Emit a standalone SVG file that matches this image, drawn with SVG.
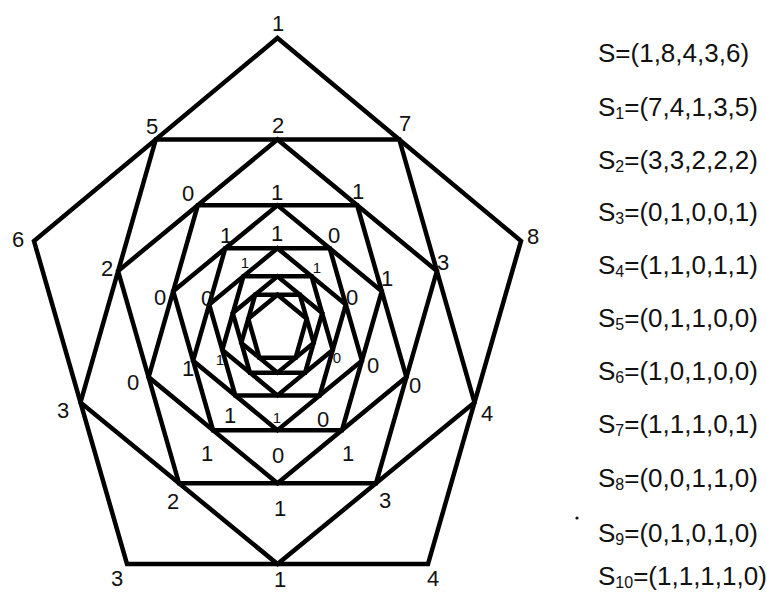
<svg xmlns="http://www.w3.org/2000/svg" width="767" height="592" viewBox="0 0 767 592">
<style>
.p{fill:none;stroke:#000;stroke-width:4.5;stroke-linejoin:miter}
.l{font-family:"Liberation Sans",Arial,sans-serif;font-size:22px;fill:#111;text-anchor:middle}
.s{font-family:"Liberation Sans",Arial,sans-serif;font-size:15px;fill:#111;text-anchor:middle}
.t{font-family:"Liberation Sans",Arial,sans-serif;font-size:26px;fill:#111}
.sub{font-size:16px}
</style>
<rect width="767" height="592" fill="#fff"/>
<g id="connectors">
<polygon id="p0" class="p" points="277.5,38 521,241 428,564 127,564 34,241"/>
<polygon id="p1" class="p" points="399.3,139.5 474.5,402.5 277.5,564 80.5,402.5 155.8,139.5"/>
<polygon id="p2" class="p" points="436.9,271 376,483.3 179,483.3 118.1,271 277.5,139.5"/>
<polygon id="p3" class="p" points="406.4,377.1 277.5,483.3 148.6,377.1 197.8,205.3 357.2,205.3"/>
<polygon id="p4" class="p" points="342,430.2 213,430.2 173.2,291.2 277.5,205.3 381.8,291.2"/>
<polygon id="p5" class="p" points="277.5,430.2 193.1,360.7 225.3,248.2 329.7,248.2 361.9,360.7"/>
<polygon id="p6" class="p" points="235.3,395.4 209.2,304.5 277.5,248.2 345.8,304.5 319.7,395.4"/>
<polygon id="p7" class="p" points="222.3,349.9 243.4,276.3 311.6,276.3 332.7,349.9 277.5,395.4"/>
<polygon id="p8" class="p" points="232.8,313.1 277.5,276.3 322.2,313.1 305.1,372.7 249.9,372.7"/>
<polygon id="p9" class="p" points="255.2,294.7 299.8,294.7 313.7,342.9 277.5,372.7 241.3,342.9"/>
<polygon id="p10" class="p" points="277.5,294.7 306.7,318.8 295.6,357.8 259.4,357.8 248.3,318.8"/>
</g>
<g id="S0labels">
<text class="l" x="278" y="31">1</text>
<text class="l" x="533" y="244">8</text>
<text class="l" x="433" y="586">4</text>
<text class="l" x="117" y="586">3</text>
<text class="l" x="18" y="247">6</text>
</g>
<g id="S1labels">
<text class="l" x="405" y="131">7</text>
<text class="l" x="487" y="421">4</text>
<text class="l" x="280" y="587">1</text>
<text class="l" x="63" y="418">3</text>
<text class="l" x="152" y="134">5</text>
</g>
<g id="S2labels">
<text class="l" x="443" y="270">3</text>
<text class="l" x="385" y="508">3</text>
<text class="l" x="173" y="509">2</text>
<text class="l" x="107" y="276">2</text>
<text class="l" x="278" y="133">2</text>
</g>
<g id="S3labels">
<text class="l" x="415" y="393">0</text>
<text class="l" x="280" y="516">1</text>
<text class="l" x="133" y="390">0</text>
<text class="l" x="188" y="201">0</text>
<text class="l" x="358" y="199">1</text>
</g>
<g id="S4labels">
<text class="l" x="348" y="461">1</text>
<text class="l" x="207" y="461">1</text>
<text class="l" x="160" y="305">0</text>
<text class="l" x="277" y="200">1</text>
<text class="l" x="387" y="286">1</text>
</g>
<g id="S5labels">
<text class="l" x="278" y="463">0</text>
<text class="l" x="188" y="376">1</text>
<text class="l" x="226" y="243">1</text>
<text class="l" x="334" y="243">0</text>
<text class="l" x="373" y="373">0</text>
</g>
<g id="S6labels">
<text class="l" x="230" y="423">1</text>
<text class="l" x="207" y="306">0</text>
<text class="l" x="277" y="241">1</text>
<text class="l" x="352" y="305">0</text>
<text class="l" x="323" y="427">0</text>
</g>
<g id="S7labels">
<text class="s" x="220" y="365">1</text>
<text class="s" x="245" y="268">1</text>
<text class="s" x="317" y="273">1</text>
<text class="s" x="337" y="363">0</text>
<text class="s" x="277" y="423">1</text>
</g>
<g id="list">
<text class="t" x="598" y="62">S=(1,8,4,3,6)</text>
<text class="t" x="598" y="116">S<tspan class="sub" dy="3">1</tspan><tspan dy="-3">=(7,4,1,3,5)</tspan></text>
<text class="t" x="598" y="169">S<tspan class="sub" dy="3">2</tspan><tspan dy="-3">=(3,3,2,2,2)</tspan></text>
<text class="t" x="598" y="221">S<tspan class="sub" dy="3">3</tspan><tspan dy="-3">=(0,1,0,0,1)</tspan></text>
<text class="t" x="598" y="274">S<tspan class="sub" dy="3">4</tspan><tspan dy="-3">=(1,1,0,1,1)</tspan></text>
<text class="t" x="598" y="327">S<tspan class="sub" dy="3">5</tspan><tspan dy="-3">=(0,1,1,0,0)</tspan></text>
<text class="t" x="598" y="380">S<tspan class="sub" dy="3">6</tspan><tspan dy="-3">=(1,0,1,0,0)</tspan></text>
<text class="t" x="598" y="433">S<tspan class="sub" dy="3">7</tspan><tspan dy="-3">=(1,1,1,0,1)</tspan></text>
<text class="t" x="598" y="487">S<tspan class="sub" dy="3">8</tspan><tspan dy="-3">=(0,0,1,1,0)</tspan></text>
<text class="t" x="598" y="542">S<tspan class="sub" dy="3">9</tspan><tspan dy="-3">=(0,1,0,1,0)</tspan></text>
<text class="t" x="598" y="585">S<tspan class="sub" dy="3">10</tspan><tspan dy="-3">=(1,1,1,1,0)</tspan></text>
<circle cx="577" cy="518" r="1.6" fill="#111"/>
</g>
</svg>
